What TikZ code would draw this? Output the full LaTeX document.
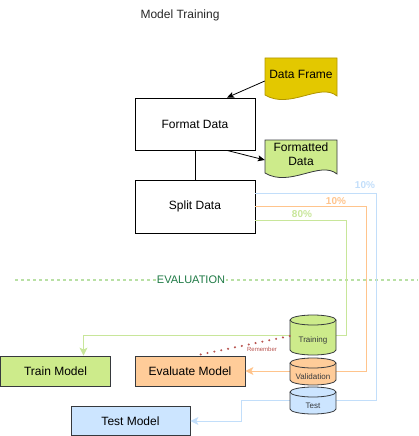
\documentclass[tikz,border=0pt]{standalone}
\usepackage{fontspec}
\setmainfont{Liberation Sans}
\usetikzlibrary{arrows.meta,calc}
\definecolor{gfill}{HTML}{CDEB8B}
\definecolor{ofill}{HTML}{FFCC99}
\definecolor{bfill}{HTML}{CCE5FF}
\definecolor{dark}{HTML}{36393D}
\definecolor{gold}{HTML}{E3C800}
\definecolor{goldd}{HTML}{B09500}
\definecolor{gline}{HTML}{C8E69A}
\definecolor{oline}{HTML}{FFC48C}
\definecolor{bline}{HTML}{C2DEFA}
\definecolor{evalc}{HTML}{1E7A45}
\definecolor{dashc}{HTML}{B9E0A5}
\definecolor{remc}{HTML}{B85450}
\tikzset{
  px/.style={font=\fontsize{#1}{#1}\selectfont},
  procbox/.style={draw=black, line width=0.8pt, minimum width=120pt, minimum height=52pt, inner sep=0pt, px=12},
  modelbox/.style={draw=dark, line width=0.8pt, minimum height=30pt, inner sep=0pt, px=12},
  cyltext/.style={inner sep=0pt, minimum width=46pt, minimum height=10pt, text=dark, px=8},
  doctext/.style={inner sep=0pt, minimum width=72pt, px=12, align=center},
  arr/.style={-{Stealth[length=7pt,width=6pt,inset=1.5pt]}, line width=0.8pt},
  carr/.style={draw=#1, line width=1pt, -{Stealth[length=8pt,width=8pt,inset=2pt,fill=#1]}},
  pct/.style={font=\fontsize{10}{10}\selectfont\bfseries, inner sep=0pt},
}
\newcommand\mycyl[6]{%
  \filldraw[fill=#5, draw=dark, line width=0.8pt] (#2-23,-#3-5) -- (#2-23,-#4+5)
    arc[start angle=180,end angle=360,x radius=23pt,y radius=5pt] -- (#2+23,-#3-5)
    arc[start angle=0,end angle=180,x radius=23pt,y radius=5pt] -- cycle;
  \draw[dark, line width=0.8pt] (#2-23,-#3-5) arc[start angle=180,end angle=360,x radius=23pt,y radius=5pt];
  \node[cyltext] (#1) at (#2,{-(#3+10+#4)/2}) {#6};
}
\begin{document}
\begin{tikzpicture}[x=1pt,y=1pt]
\useasboundingbox (0,0) rectangle (418,-436);
% title
\node[px=12, text=black!85] (title) at (180,-15) {Model Training};
% documents
\filldraw[fill=gold, draw=goldd, line width=0.8pt] (265,-58) -- (337,-58) -- (337,-96)
  .. controls (320,-82) and (290,-110) .. (265,-95) -- cycle;
\node[doctext, minimum height=32pt] (df) at (301,-74) {Data Frame};
\filldraw[fill=gfill, draw=dark, line width=0.8pt] (265,-140) -- (337,-140) -- (337,-174)
  .. controls (320,-160) and (290,-188) .. (265,-173) -- cycle;
\node[doctext, minimum height=28pt, font=\fontsize{12}{14}\selectfont] (fd) at (301,-154) {Formatted\\Data};
% process boxes
\node[procbox] (fmt) at (195,-124) {Format Data};
\node[procbox, minimum height=53pt] (split) at (195,-206.5) {Split Data};
\draw[line width=0.8pt] (fmt.south) -- (split.north);
\draw[arr] ([yshift=-7pt]df.west) -- ([xshift=32pt]fmt.north);
\draw[arr] ([xshift=32pt]fmt.south) -- ([yshift=-6pt]fd.west);
% evaluation separator
\draw[dashc, line width=1.2pt, dash pattern=on 3pt off 3pt] (15,-280) -- (418,-280);
\node[fill=white, inner sep=1pt, text=evalc, px=11] (evl) at (191,-280) {EVALUATION};
% model boxes
\node[modelbox, fill=gfill, minimum width=110pt] (trainm) at (55.5,-371) {Train Model};
\node[modelbox, fill=ofill, minimum width=110pt] (evalm) at (190,-371) {Evaluate Model};
\node[modelbox, fill=bfill, minimum width=119pt, minimum height=29pt] (testm) at (130.5,-421) {Test Model};
% split connectors
\draw[carr=bline] ([yshift=13.5pt]split.east) -- (376,-193) -- (376,-400) -- (241,-400) |- (testm.east);
\draw[carr=oline] (split.east) -- (366,-206.5) |- (evalm.east);
\draw[carr=gline] ([yshift=-13.5pt]split.east) -- (346,-220) -- (346,-335) -| ([xshift=28pt]trainm.north);
\node[pct, text=bline] (p1) at (365,-185) {10\%};
\node[pct, text=oline] (p2) at (336,-201) {10\%};
\node[pct, text=gline] (p3) at (302,-214) {80\%};
% cylinders
\mycyl{trn}{313}{315}{355}{gfill}{Training}
\mycyl{val}{313}{358}{385}{ofill}{Validation}
\mycyl{tst}{313}{387}{414}{bfill}{Test}
% remember
\draw[remc, line width=2.3pt, line cap=round, dash pattern=on 0pt off 7pt] ([yshift=4pt]trn.west) -- ([xshift=5pt]evalm.north);
\node[text=remc, px=6, inner sep=0pt] (rem) at (262,-349) {Remember};
\end{tikzpicture}
\end{document}
